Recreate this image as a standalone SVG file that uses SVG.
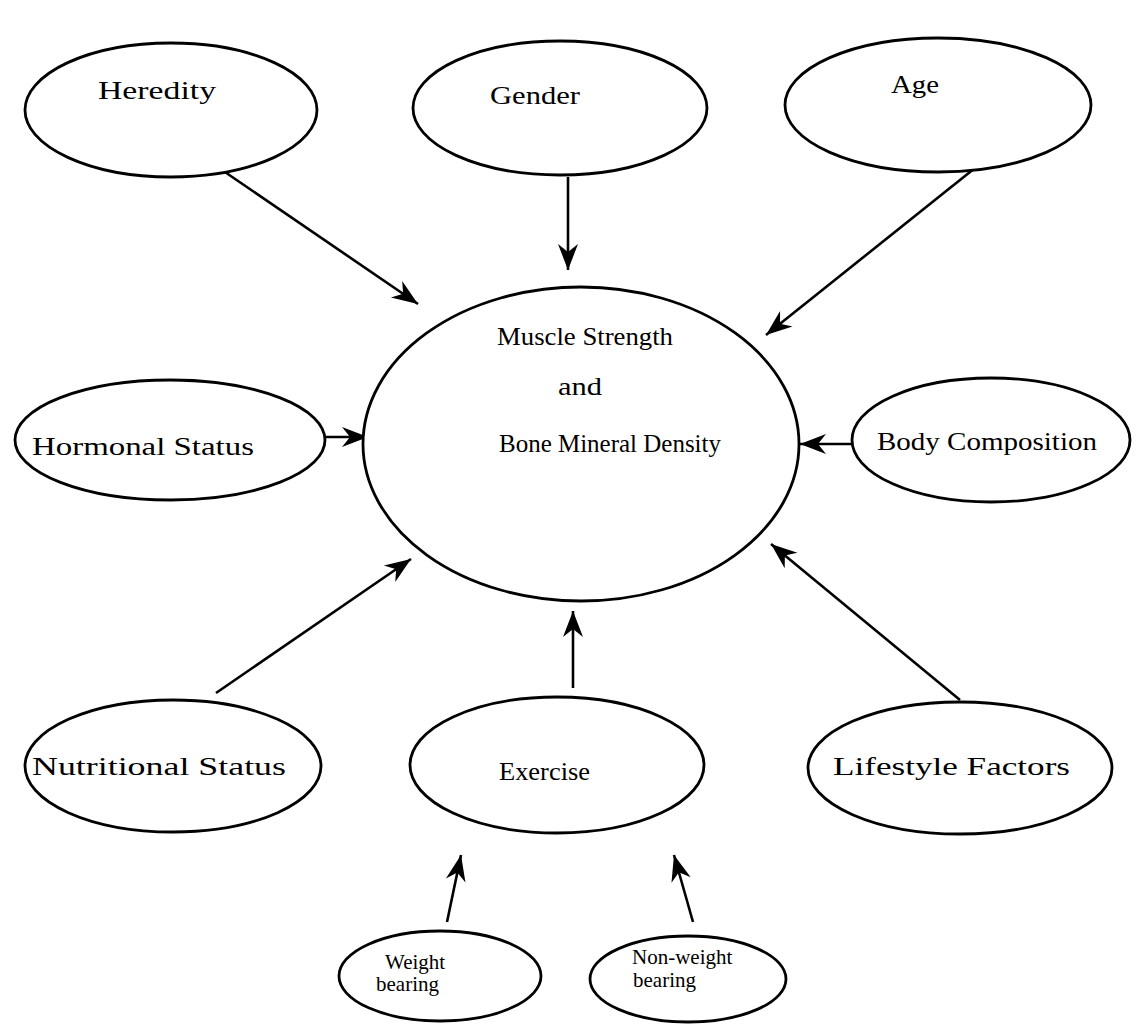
<svg xmlns="http://www.w3.org/2000/svg" width="1147" height="1024" viewBox="0 0 1147 1024">
<defs>
<style>
.node ellipse{fill:#fff;stroke:#000;stroke-width:2.8}
.t{font-family:"Liberation Serif","Times New Roman",serif;font-size:26px;fill:#000}
.ts{font-family:"Liberation Serif","Times New Roman",serif;font-size:21px;fill:#000}
#connectors line{stroke:#000;stroke-width:2.6;marker-end:url(#ah)}
</style>
<marker id="ah" markerUnits="userSpaceOnUse" markerWidth="32" markerHeight="26" viewBox="-28 -13 32 26" refX="0" refY="0" orient="auto">
<path d="M0,0 L-26,-10 L-18,0 L-26,10 Z" fill="#000"/>
</marker>
</defs>
<rect width="1147" height="1024" fill="#fff"/>
<g id="connectors">
<line x1="222" y1="170" x2="418" y2="304"/>
<line x1="568" y1="177" x2="568" y2="270"/>
<line x1="975" y1="168" x2="766" y2="335"/>
<line x1="325" y1="437" x2="368" y2="437"/>
<line x1="852" y1="444" x2="800" y2="444"/>
<line x1="216" y1="693" x2="411" y2="559"/>
<line x1="573" y1="688" x2="573" y2="611"/>
<line x1="960" y1="700" x2="771" y2="544"/>
<line x1="447" y1="922" x2="461" y2="855"/>
<line x1="693" y1="922" x2="674" y2="855"/>
</g>
<g id="center" class="node"><ellipse cx="581" cy="444" rx="218" ry="157"/>
<text class="t" x="497" y="345" textLength="176" lengthAdjust="spacingAndGlyphs">Muscle Strength</text>
<text class="t" x="558" y="395" textLength="44" lengthAdjust="spacingAndGlyphs">and</text>
<text class="t" x="499" y="452" textLength="222" lengthAdjust="spacingAndGlyphs">Bone Mineral Density</text></g>
<g id="heredity" class="node"><ellipse cx="171" cy="110" rx="146" ry="67"/><text class="t" x="98" y="99" textLength="118" lengthAdjust="spacingAndGlyphs">Heredity</text></g>
<g id="gender" class="node"><ellipse cx="560" cy="108" rx="147" ry="67"/><text class="t" x="490" y="104" textLength="90" lengthAdjust="spacingAndGlyphs">Gender</text></g>
<g id="age" class="node"><ellipse cx="938" cy="105" rx="153" ry="67"/><text class="t" x="891" y="93" textLength="48" lengthAdjust="spacingAndGlyphs">Age</text></g>
<g id="hormonal" class="node"><ellipse cx="170" cy="440" rx="155" ry="60"/><text class="t" x="32" y="455" textLength="222" lengthAdjust="spacingAndGlyphs">Hormonal Status</text></g>
<g id="body" class="node"><ellipse cx="991" cy="440" rx="139" ry="62"/><text class="t" x="877" y="450" textLength="220" lengthAdjust="spacingAndGlyphs">Body Composition</text></g>
<g id="nutritional" class="node"><ellipse cx="173" cy="766" rx="148" ry="66"/><text class="t" x="32" y="775" textLength="254" lengthAdjust="spacingAndGlyphs">Nutritional Status</text></g>
<g id="exercise" class="node"><ellipse cx="557" cy="765" rx="147" ry="68"/><text class="t" x="499" y="780" textLength="91" lengthAdjust="spacingAndGlyphs">Exercise</text></g>
<g id="lifestyle" class="node"><ellipse cx="960" cy="768" rx="152" ry="66"/><text class="t" x="833" y="775" textLength="237" lengthAdjust="spacingAndGlyphs">Lifestyle Factors</text></g>
<g id="weight" class="node"><ellipse cx="440" cy="976" rx="101" ry="45"/><text class="ts" x="385" y="969">Weight</text><text class="ts" x="376" y="991">bearing</text></g>
<g id="nonweight" class="node"><ellipse cx="688" cy="979" rx="98" ry="43"/><text class="ts" x="632" y="964">Non-weight</text><text class="ts" x="633" y="987">bearing</text></g>
</svg>
